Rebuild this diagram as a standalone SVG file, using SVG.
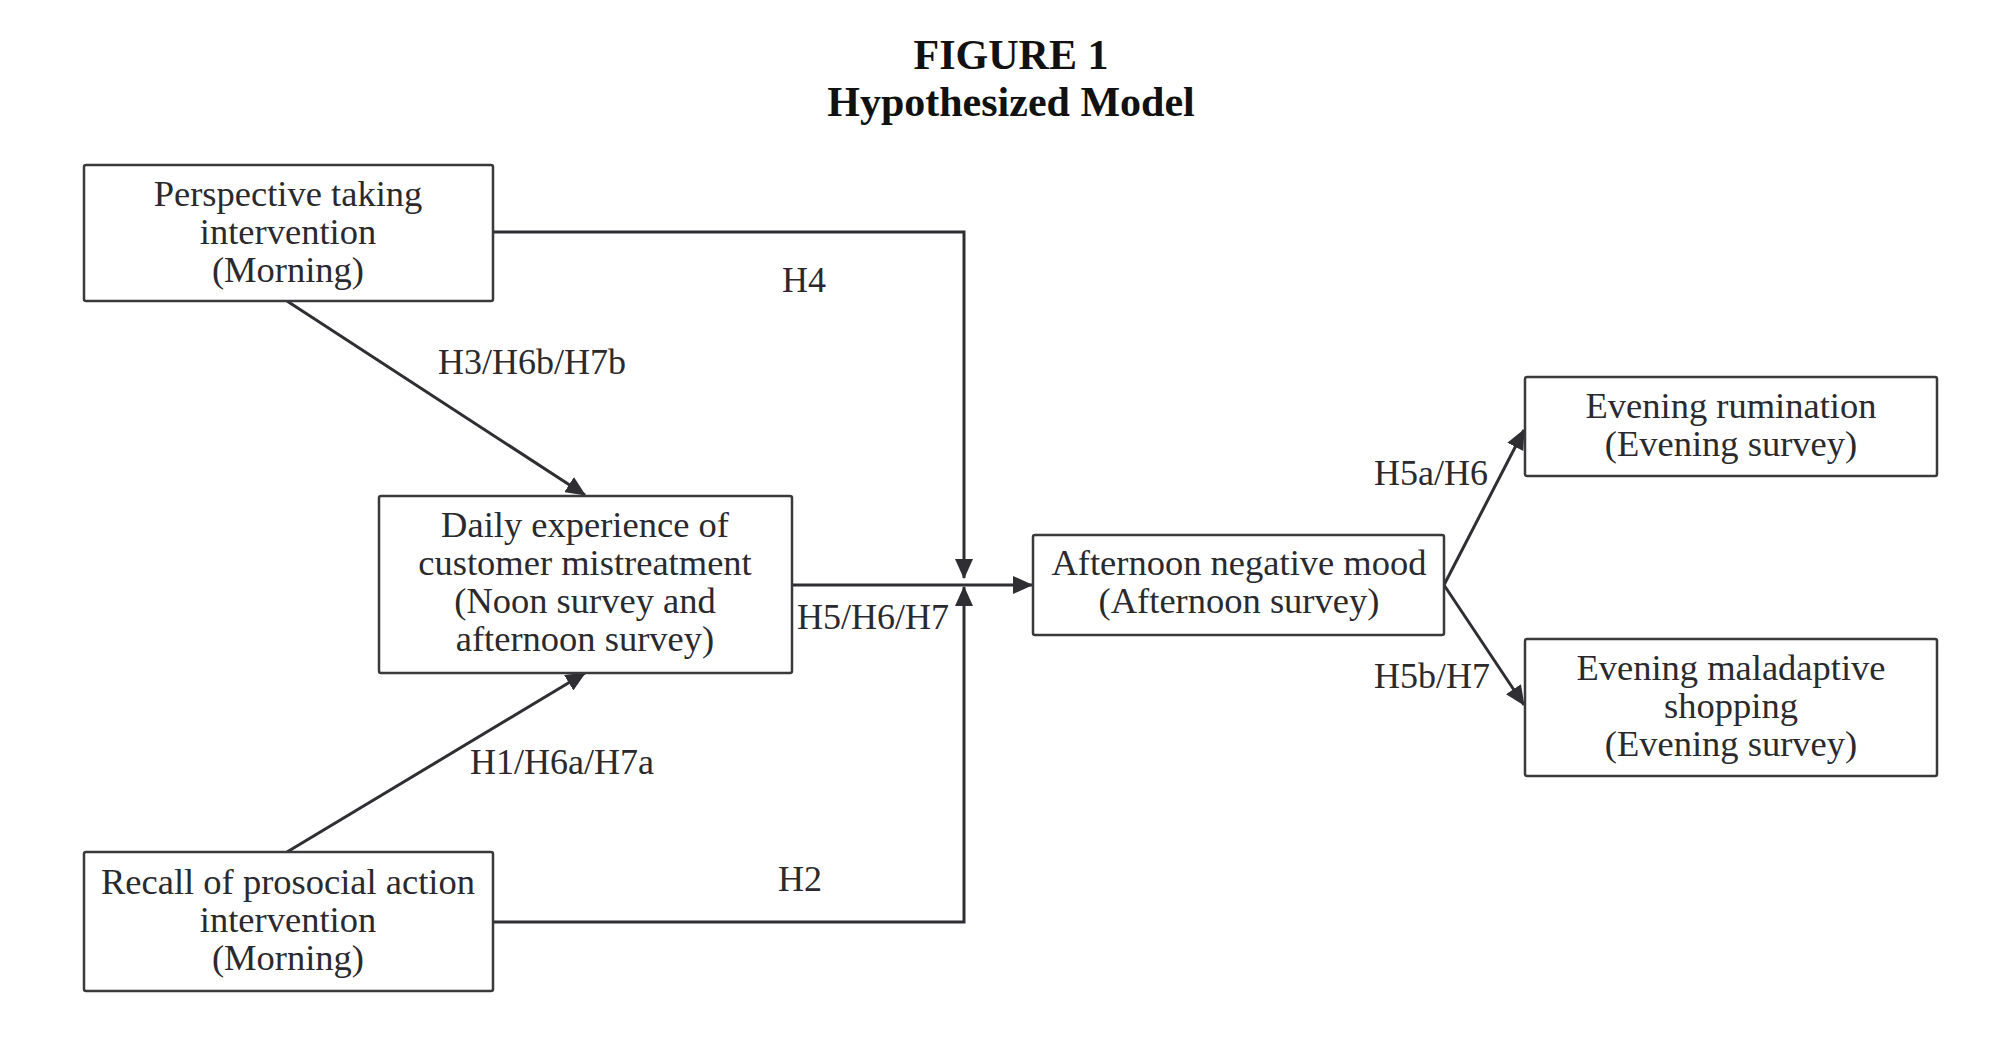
<svg xmlns="http://www.w3.org/2000/svg" width="2002" height="1041" viewBox="0 0 2002 1041">
<style>
.title{font-family:"Liberation Serif","Times New Roman",serif;font-weight:bold;font-size:42px;fill:#111;text-anchor:middle}
.box{fill:#fff;stroke:#3a3a3c;stroke-width:2.5}
.t{font-family:"Liberation Serif","Times New Roman",serif;font-size:36.5px;fill:#2a2a2e;text-anchor:middle}
.lbl{font-family:"Liberation Serif","Times New Roman",serif;font-size:36px;fill:#2a2a2e}
.c{fill:none;stroke:#2f2f33;stroke-width:3}
</style>
<defs>
<marker id="ah" markerUnits="userSpaceOnUse" markerWidth="20" markerHeight="18" viewBox="0 0 20 18" refX="19" refY="9" orient="auto">
<path d="M0,0 L20,9 L0,18 Z" fill="#2f2f33"/>
</marker>
</defs>
<rect width="2002" height="1041" fill="#fff"/>
<text class="title" x="1011" y="69">FIGURE 1</text>
<text class="title" x="1011" y="116">Hypothesized Model</text>

<g id="connectors">
<polyline class="c" points="493,232 964,232 964,578" marker-end="url(#ah)"/>
<polyline class="c" points="493,922 964,922 964,587" marker-end="url(#ah)"/>
<line class="c" x1="792" y1="585" x2="1032" y2="585" marker-end="url(#ah)"/>
<line class="c" x1="287" y1="301" x2="585" y2="495" marker-end="url(#ah)"/>
<line class="c" x1="287" y1="852" x2="585" y2="673" marker-end="url(#ah)"/>
<line class="c" x1="1444" y1="585" x2="1524" y2="430" marker-end="url(#ah)"/>
<line class="c" x1="1444" y1="585" x2="1524" y2="705" marker-end="url(#ah)"/>
<text class="lbl" x="804" y="292" text-anchor="middle">H4</text>
<text class="lbl" x="438" y="374">H3/H6b/H7b</text>
<text class="lbl" x="797" y="629">H5/H6/H7</text>
<text class="lbl" x="470" y="774">H1/H6a/H7a</text>
<text class="lbl" x="800" y="891" text-anchor="middle">H2</text>
<text class="lbl" x="1374" y="485">H5a/H6</text>
<text class="lbl" x="1374" y="688">H5b/H7</text>
</g>

<g id="perspective">
<rect class="box" x="84" y="165" width="409" height="136" rx="2"/>
<text class="t" x="288" y="206">Perspective taking</text>
<text class="t" x="288" y="244">intervention</text>
<text class="t" x="288" y="282">(Morning)</text>
</g>
<g id="daily">
<rect class="box" x="379" y="496" width="413" height="177" rx="2"/>
<text class="t" x="585" y="537">Daily experience of</text>
<text class="t" x="585" y="575">customer mistreatment</text>
<text class="t" x="585" y="613">(Noon survey and</text>
<text class="t" x="585" y="651">afternoon survey)</text>
</g>
<g id="recall">
<rect class="box" x="84" y="852" width="409" height="139" rx="2"/>
<text class="t" x="288" y="894">Recall of prosocial action</text>
<text class="t" x="288" y="932">intervention</text>
<text class="t" x="288" y="970">(Morning)</text>
</g>
<g id="afternoon">
<rect class="box" x="1033" y="535" width="411" height="100" rx="2"/>
<text class="t" x="1239" y="575">Afternoon negative mood</text>
<text class="t" x="1239" y="613">(Afternoon survey)</text>
</g>
<g id="rumination">
<rect class="box" x="1525" y="377" width="412" height="99" rx="2"/>
<text class="t" x="1731" y="418">Evening rumination</text>
<text class="t" x="1731" y="456">(Evening survey)</text>
</g>
<g id="shopping">
<rect class="box" x="1525" y="639" width="412" height="137" rx="2"/>
<text class="t" x="1731" y="680">Evening maladaptive</text>
<text class="t" x="1731" y="718">shopping</text>
<text class="t" x="1731" y="756">(Evening survey)</text>
</g>
</svg>
